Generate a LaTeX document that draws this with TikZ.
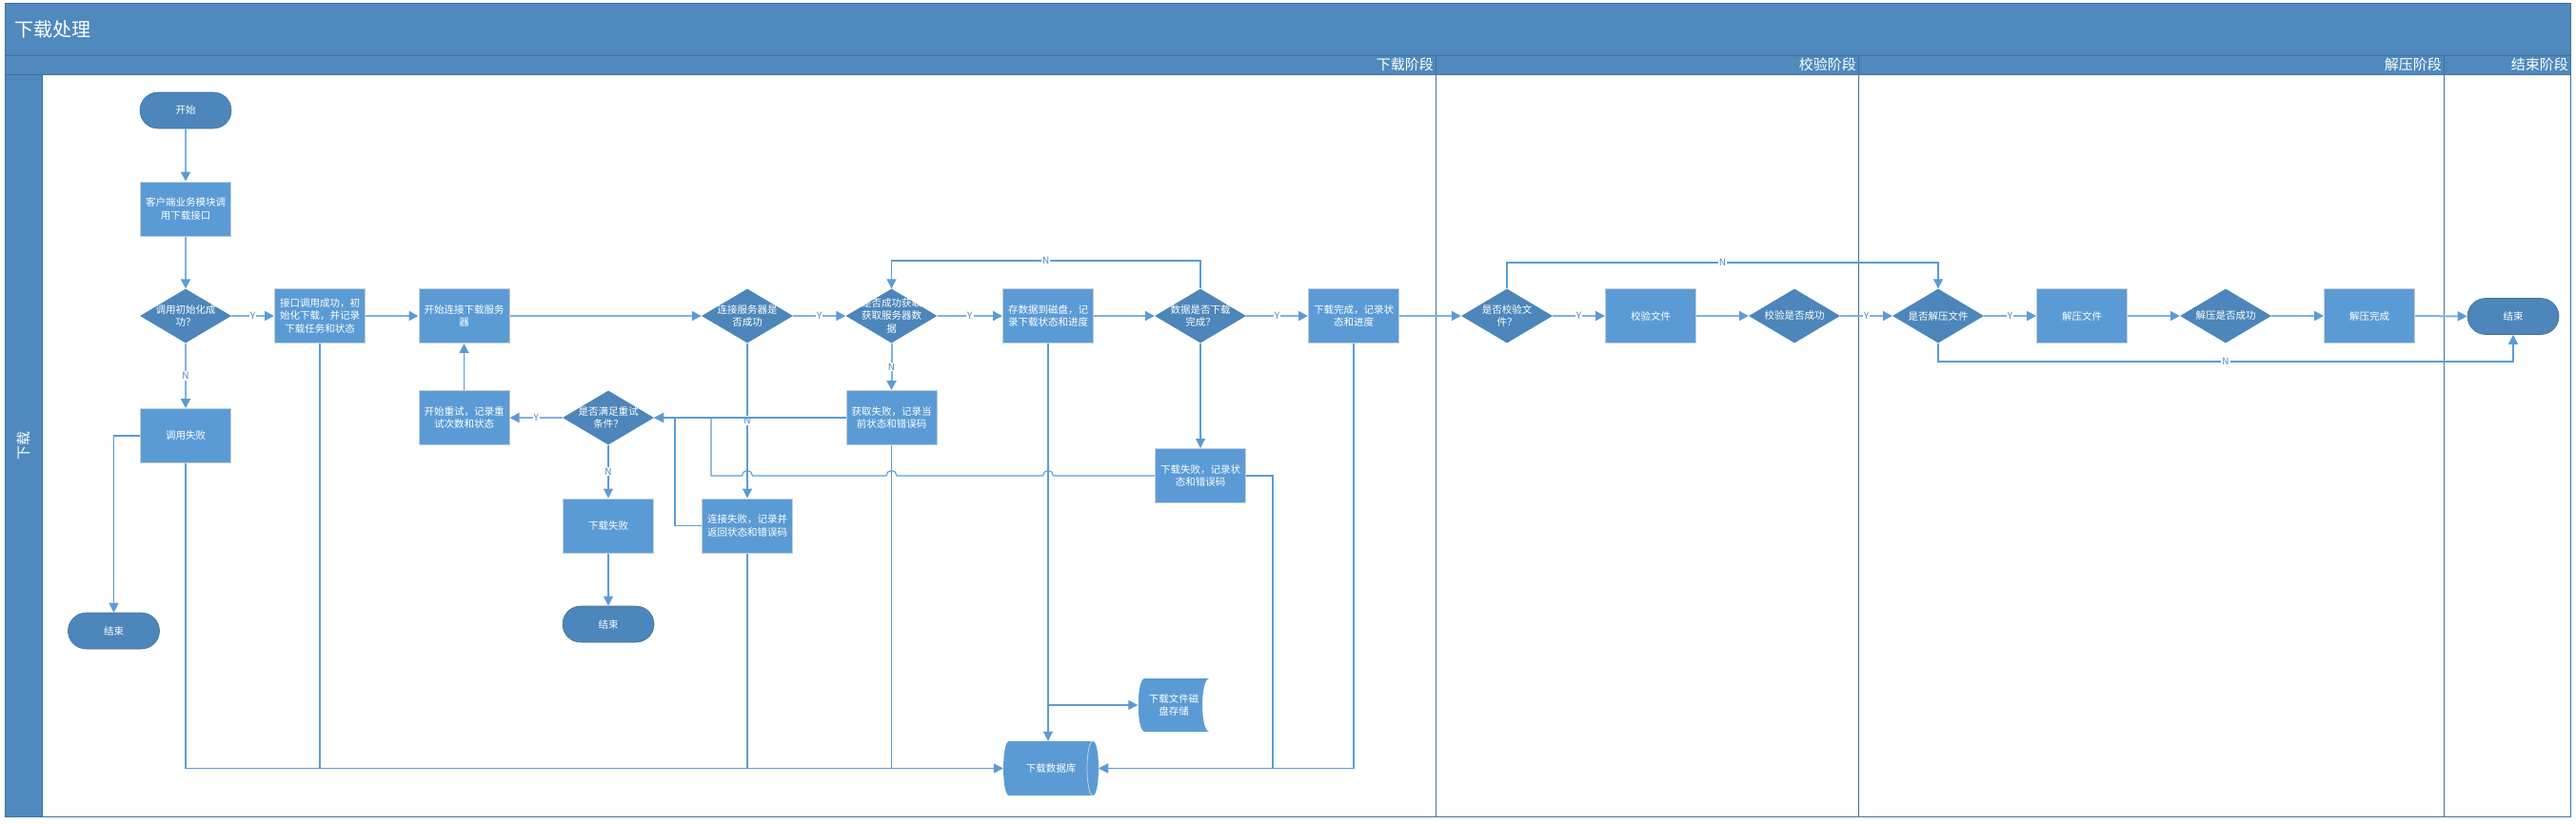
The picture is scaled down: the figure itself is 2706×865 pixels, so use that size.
\documentclass[tikz,border=0pt]{standalone}
\usepackage{fontspec}
\setmainfont{Noto Sans CJK SC}
\usetikzlibrary{arrows.meta,shapes.geometric}

\definecolor{bandblue}{RGB}{79,137,189}
\definecolor{framec}{RGB}{65,113,156}
\definecolor{procfill}{RGB}{91,155,213}
\definecolor{procline}{RGB}{196,206,216}
\definecolor{decfill}{RGB}{76,134,186}
\definecolor{flowc}{RGB}{128,176,225}
\definecolor{thinc}{RGB}{91,155,213}
\definecolor{ync}{RGB}{84,132,190}

\begin{document}
\begin{tikzpicture}[x=1pt,y=-1pt,
    txt/.style={text=white,align=center,font=\fontsize{10.5}{13.7}\selectfont},
    procbox/.style={txt,rectangle,draw=procline,line width=1pt,fill=procfill,
                    minimum width=95pt,minimum height=57pt,inner sep=0pt},
    termbox/.style={txt,rectangle,rounded corners=19pt,draw=framec,line width=0.6pt,
                    fill=decfill,minimum width=96pt,minimum height=38pt,inner sep=0pt},
    decision/.style={diamond,fill=decfill,minimum width=96pt,minimum height=57pt,inner sep=0pt},
    dtext/.style={txt,inner sep=0pt},
    dbshape/.style={txt,rectangle,minimum width=100pt,minimum height=57pt,inner sep=0pt,
      path picture={
        \fill[procfill] ([xshift=6pt]path picture bounding box.north west)
          -- ([xshift=-6pt]path picture bounding box.north east)
          .. controls ([xshift=2pt]path picture bounding box.north east)
          and ([xshift=2pt]path picture bounding box.south east)
          .. ([xshift=-6pt]path picture bounding box.south east)
          -- ([xshift=6pt]path picture bounding box.south west)
          .. controls ([xshift=-2pt]path picture bounding box.south west)
          and ([xshift=-2pt]path picture bounding box.north west)
          .. ([xshift=6pt]path picture bounding box.north west) -- cycle;
        \draw[procline,line width=0.8pt] ([xshift=-6pt]path picture bounding box.north east)
          .. controls ([xshift=-14pt]path picture bounding box.north east)
          and ([xshift=-14pt]path picture bounding box.south east)
          .. ([xshift=-6pt]path picture bounding box.south east);
      }},
    diskshape/.style={txt,rectangle,minimum width=75pt,minimum height=56pt,inner sep=0pt,
      path picture={
        \fill[procfill] ([xshift=7pt]path picture bounding box.north west)
          -- (path picture bounding box.north east)
          .. controls ([xshift=-10pt]path picture bounding box.north east)
          and ([xshift=-10pt]path picture bounding box.south east)
          .. (path picture bounding box.south east)
          -- ([xshift=7pt]path picture bounding box.south west)
          .. controls ([xshift=-2pt]path picture bounding box.south west)
          and ([xshift=-2pt]path picture bounding box.north west)
          .. ([xshift=7pt]path picture bounding box.north west) -- cycle;
      }},
    ynlabel/.style={font=\fontsize{10}{11}\selectfont,text=ync,fill=white,inner sep=1pt},
    phaselabel/.style={anchor=east,text=white,font=\fontsize{15}{18}\selectfont,inner sep=1pt},
    mainline/.style={draw=flowc,line width=2pt},
    sideline/.style={draw=thinc,line width=1.1pt},
    >={Triangle[length=10pt,width=10pt,color=thinc]}]

\useasboundingbox (0,0) rectangle (2706,865);
\fill[white] (0,0) rectangle (2706,865);

\fill[bandblue] (5,3) rectangle (2700,78);
\fill[bandblue] (5,78) rectangle (44,858);
\draw[framec,line width=1pt] (5,3) rectangle (2700,858);
\draw[framec,line width=1pt] (5,58) -- (2700,58);
\draw[framec,line width=1pt] (5,78) -- (2700,78);
\draw[framec,line width=1pt] (44,78) -- (44,858);
\foreach \xd in {1508,1952,2567}
    \draw[framec,line width=0.8pt] (\xd,58) -- (\xd,858);

\node[anchor=west,text=white,font=\fontsize{20}{24}\selectfont] (title) at (12,31) {下载处理};
\node[phaselabel] (phA) at (1507,68) {下载阶段};
\node[phaselabel] (phB) at (1951,68) {校验阶段};
\node[phaselabel] (phC) at (2566,68) {解压阶段};
\node[phaselabel] (phD) at (2699,68) {结束阶段};
\node[rotate=90,text=white,font=\fontsize{15}{18}\selectfont] (lane) at (25,468) {下载};

\node[termbox] (start) at (195,116) {开始};
\node[procbox] (client) at (195,219.5) {客户端业务模块调\\用下载接口};
\node[decision,label={[dtext]center:{调用初始化成\\功？}}] (initq) at (195,332) {};
\node[procbox] (callfail) at (195,458) {调用失败};
\node[termbox] (endA) at (119.5,663) {结束};
\node[procbox] (iface) at (336,332) {接口调用成功，初\\始化下载，并记录\\下载任务和状态};
\node[procbox] (conn) at (487.5,332) {开始连接下载服务\\器};
\node[procbox] (retry) at (487.5,439) {开始重试，记录重\\试次数和状态};
\node[decision,label={[dtext]center:{是否满足重试\\条件？}}] (retryq) at (639,439) {};
\node[procbox] (dlfail) at (639,552.5) {下载失败};
\node[termbox] (endB) at (639,656) {结束};
\node[decision,label={[dtext]center:{连接服务器是\\否成功}}] (connq) at (785,332) {};
\node[procbox] (connfail) at (785,552.5) {连接失败，记录并\\返回状态和错误码};
\node[decision,label={[dtext]center:{是否成功获取\\获取服务器数\\据}}] (fetchq) at (936.5,332) {};
\node[procbox] (fetchfail) at (936.5,439) {获取失败，记录当\\前状态和错误码};
\node[procbox] (store) at (1101,332) {存数据到磁盘，记\\录下载状态和进度};
\node[decision,label={[dtext]center:{数据是否下载\\完成？}}] (doneq) at (1261,332) {};
\node[procbox] (dlrec) at (1261,500) {下载失败，记录状\\态和错误码};
\node[procbox] (dlok) at (1422,332) {下载完成，记录状\\态和进度};
\node[diskshape] (disk) at (1233,741) {下载文件磁\\盘存储};
\node[dbshape] (db) at (1104,807.5) {下载数据库};
\node[decision,label={[dtext]center:{是否校验文\\件？}}] (verifyq) at (1583,332) {};
\node[procbox] (verify) at (1734,332) {校验文件};
\node[decision,label={[dtext]center:{校验是否成功}}] (vokq) at (1885,332) {};
\node[decision,label={[dtext]center:{是否解压文件}}] (unzipq) at (2036,332) {};
\node[procbox] (unzip) at (2187,332) {解压文件};
\node[decision,label={[dtext]center:{解压是否成功}}] (uokq) at (2338,332) {};
\node[procbox] (unzipok) at (2489,332) {解压完成};
\node[termbox] (endC) at (2640,332.5) {结束};

\coordinate (topA) at (1261,274);
\coordinate (topB) at (1583,276);
\coordinate (botC) at (2036,380);
\coordinate (cbend) at (709,552.5);
\coordinate (dbend) at (747,500);
\coordinate (rbend) at (1337,500);

\begin{scope}[every node/.style={ynlabel}]
    \draw[mainline,->] (start) -- (client);
    \draw[mainline,->] (client) -- (initq);
    \draw[mainline,->] (initq) -- node {Y} (iface);
    \draw[mainline,->] (initq) -- node {N} (callfail);
    \draw[mainline,->] (iface) -- (conn);
    \draw[mainline,->] (conn) -- (connq);
    \draw[mainline,->] (connq) -- node {Y} (fetchq);
    \draw[mainline,->] (fetchq) -- node {Y} (store);
    \draw[mainline,->] (fetchq) -- node {N} (fetchfail);
    \draw[mainline,->] (store) -- (doneq);
    \draw[mainline,->] (doneq) -- node {Y} (dlok);
    \draw[mainline,->] (dlok) -- (verifyq);
    \draw[mainline,->] (verifyq) -- node {Y} (verify);
    \draw[mainline,->] (verify) -- (vokq);
    \draw[mainline,->] (vokq) -- node {Y} (unzipq);
    \draw[mainline,->] (unzipq) -- node {Y} (unzip);
    \draw[mainline,->] (unzip) -- (uokq);
    \draw[mainline,->] (uokq) -- (unzipok);
    \draw[mainline,->] (unzipok) -- (endC);
    \draw[mainline,->] (retryq) -- node {Y} (retry);
    \draw[sideline,->] (retryq) -- node {N} (dlfail);
    \draw[sideline,->] (dlfail) -- (endB);
    \draw[sideline,->] (retry) -- (conn);

    \draw[sideline,->] (callfail.west) -| (endA.north);
    \draw[sideline,->] (callfail.south) |- (db.west);
    \draw[sideline] (iface.south) -- (iface.south |- db.west);
    \draw[sideline] (connfail.south) -- (connfail.south |- db.west);
    \draw[sideline] (fetchfail.south) -- (fetchfail.south |- db.west);
    \draw[sideline,->] (connq) -- node {N} (connfail);
    \draw[sideline,->] (connfail.west) -- (cbend) |- (retryq.east);
    \draw[sideline,->] (fetchfail.west) -- (retryq.east);
    \draw[sideline,->] (doneq.north) -- (topA) -| node[pos=0.25] {N} (fetchq.north);
    \draw[sideline,->] (doneq) -- (dlrec);
    \draw[sideline,->] (dlrec.west) -- (1106.5,500) arc[start angle=0,end angle=180,radius=5.5pt]
        -- (942,500) arc[start angle=0,end angle=180,radius=5.5pt]
        -- (790.5,500) arc[start angle=0,end angle=180,radius=5.5pt]
        -- (dbend) |- (retryq.east);
    \draw[sideline,->] (dlrec.east) -- (rbend) |- (db.east);
    \draw[sideline,->] (dlok.south) |- (db.east);
    \draw[sideline,->] (store.south) -- (store.south |- db.north);
    \draw[sideline,->] (store.south |- disk.west) -- (disk.west);
    \draw[sideline,->] (verifyq.north) -- (topB) -| node[pos=0.25] {N} (unzipq.north);
    \draw[sideline,->] (unzipq.south) -- (botC) -| node[pos=0.25] {N} (endC.south);
\end{scope}
\end{tikzpicture}
\end{document}
